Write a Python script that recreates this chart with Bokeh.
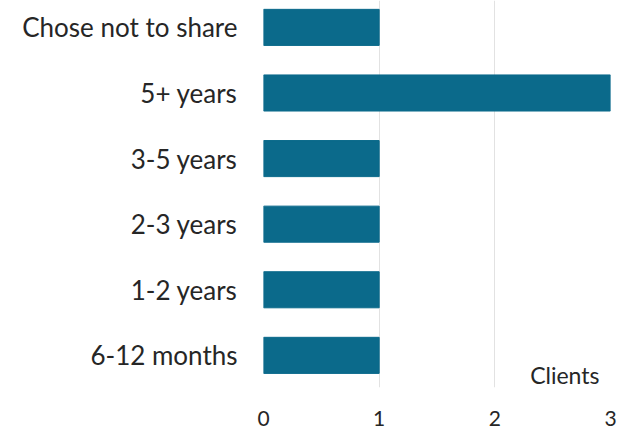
from bokeh.plotting import figure
from bokeh.models import Range1d, FixedTicker, Label, ColumnDataSource
from bokeh.embed import file_html
from bokeh.resources import INLINE

categories = ["6-12 months", "1-2 years", "2-3 years", "3-5 years", "5+ years", "Chose not to share"]
clients = [1, 1, 1, 1, 3, 1]
x_ticks = [0, 1, 2, 3]
x_label = "Clients"

positions = list(range(len(categories)))
src = ColumnDataSource(dict(y=positions, v=clients, cat=categories))

p = figure(width=620, height=428, output_backend="svg", toolbar_location=None,
           x_range=Range1d(0, 3), y_range=Range1d(-0.49, 5.41),
           min_border_left=263, min_border_right=10, min_border_top=0, min_border_bottom=39)
p.outline_line_color = None
p.background_fill_color = "white"

p.hbar(y="y", right="v", left=0, height=0.55, source=src, color="#0b6a8b")

p.xaxis.ticker = FixedTicker(ticks=x_ticks)
p.yaxis.ticker = FixedTicker(ticks=positions)
p.yaxis.major_label_overrides = {i: c for i, c in zip(positions, categories)}

for ax in (p.xaxis[0], p.yaxis[0]):
    ax.axis_line_color = None
    ax.major_tick_line_color = None
    ax.minor_tick_line_color = None
    ax.major_label_text_font = "Lato"
    ax.major_label_text_color = "#262626"
    ax.major_label_text_font_size = "26px"

p.xaxis.major_label_standoff = 17
p.xaxis.major_label_text_font_size = "21px"
p.yaxis.major_label_standoff = 20

p.xgrid.grid_line_color = "#e2e2e2"
p.ygrid.grid_line_color = None

p.add_layout(Label(x=3, y=-0.49, x_offset=-11, y_offset=13, text=x_label,
                   text_align="right", text_baseline="alphabetic",
                   text_font="Lato", text_font_size="23px", text_color="#262626"))

open("out.html", "w").write(file_html(p, INLINE))
